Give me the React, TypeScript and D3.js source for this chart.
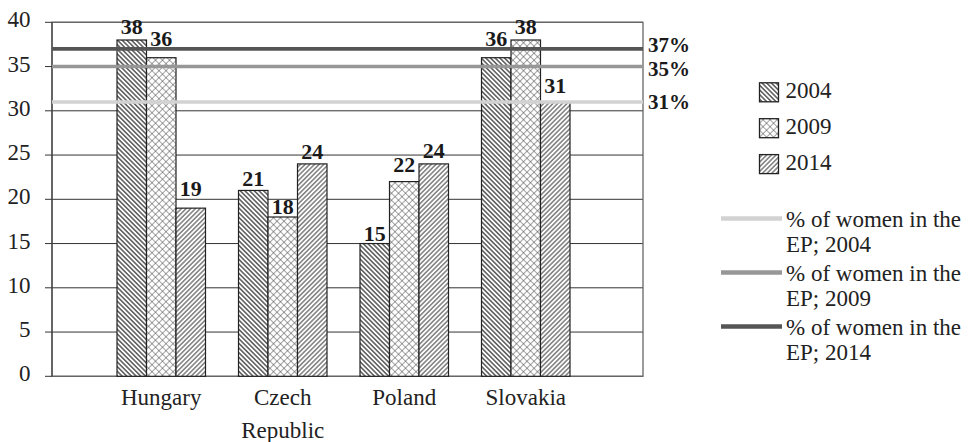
import React from "react";
import * as d3 from "d3";

// Share of women among MEPs elected in each country, by election year
const countries = ["Hungary", "Czech Republic", "Poland", "Slovakia"];
const countryLabelLines = [["Hungary"], ["Czech", "Republic"], ["Poland"], ["Slovakia"]];
const years = ["2004", "2009", "2014"];
const share2004 = [38, 21, 15, 36];
const share2009 = [36, 18, 22, 38];
const share2014 = [19, 24, 24, 31];

// EP-wide share of women for the same elections
const epYears = ["2004", "2009", "2014"];
const epShare = [31, 35, 37];

const yTickValues = [0, 5, 10, 15, 20, 25, 30, 35, 40];

// layout-only: how far each value label sits above its bar (px)
const labelLift = [
  [6, 11.7, 12],
  [4, 3.4, 5],
  [2.5, 10, 6],
  [11.6, 6, 9],
];
// layout-only: baseline offsets for the EP labels at the right edge
const epLabelShift = [7.5, 9.2, 3.3];

const W = 975;
const H = 442;
const plot = { left: 52, right: 643, top: 22.3, bottom: 376.3 };

const SERIF = '"Liberation Serif", "Times New Roman", serif';
const FS = 23;
const FS_BOLD = 22;
const FS_EP = 21;

const patternIds = ["pat2004", "pat2009", "pat2014"];
const epColors = ["#d2d2d2", "#979797", "#555555"];

export default function App() {
  const seriesValues = [share2004, share2009, share2014];

  const y = d3.scaleLinear().domain([0, 40]).range([plot.bottom, plot.top]);
  const x0 = d3
    .scaleBand<string>()
    .domain(countries)
    .range([100.5, 586.5])
    .paddingInner(0.2716)
    .paddingOuter(0.1358);
  const x1 = d3.scaleBand<string>().domain(years).range([0, x0.bandwidth()]);

  return (
    <svg
      width={W}
      height={H}
      style={{ position: "absolute", left: 0, top: 0, display: "block", background: "#fff" }}
      fontFamily={SERIF}
    >
      <defs>
        <pattern id="pat2004" patternUnits="userSpaceOnUse" width={3.3} height={3.3} patternTransform="rotate(-45)">
          <rect width={3.3} height={3.3} fill="#fff" />
          <line x1={1.65} y1={0} x2={1.65} y2={3.3} stroke="#222" strokeWidth={1.15} />
        </pattern>
        <pattern id="pat2009" patternUnits="userSpaceOnUse" width={4.95} height={4.95} patternTransform="rotate(45)">
          <rect width={4.95} height={4.95} fill="#fff" />
          <path d="M0,0V4.95M0,0H4.95" stroke="#444" strokeWidth={1} />
        </pattern>
        <pattern id="pat2014" patternUnits="userSpaceOnUse" width={3.3} height={3.3} patternTransform="rotate(45)">
          <rect width={3.3} height={3.3} fill="#fff" />
          <line x1={1.65} y1={0} x2={1.65} y2={3.3} stroke="#555" strokeWidth={1.15} />
        </pattern>
      </defs>

      {/* gridlines */}
      {yTickValues.map((t) => (
        <line key={`g${t}`} x1={plot.left} x2={plot.right} y1={y(t)} y2={y(t)} stroke="#333" strokeWidth={1} />
      ))}

      {/* plot frame */}
      <rect
        x={plot.left}
        y={plot.top}
        width={plot.right - plot.left}
        height={plot.bottom - plot.top}
        fill="none"
        stroke="#666"
        strokeWidth={1.3}
      />
      <line x1={plot.left} x2={plot.left} y1={plot.top} y2={plot.bottom} stroke="#444" strokeWidth={1.2} />

      {/* y ticks and labels */}
      {yTickValues.map((t) => (
        <g key={`t${t}`}>
          <line x1={plot.left - 7} x2={plot.left} y1={y(t)} y2={y(t)} stroke="#333" strokeWidth={1} />
          <text x={30.5} y={y(t) + 5} textAnchor="end" fontSize={FS} fill="#222">
            {t}
          </text>
        </g>
      ))}

      {/* bars */}
      {countries.map((c, ci) => (
        <g key={c} transform={`translate(${x0(c)},0)`}>
          {years.map((yr, si) => {
            const v = seriesValues[si][ci];
            return (
              <rect
                key={yr}
                x={x1(yr)}
                y={y(v)}
                width={x1.bandwidth()}
                height={y(0) - y(v)}
                fill={`url(#${patternIds[si]})`}
                stroke="#222"
                strokeWidth={1.2}
              />
            );
          })}
        </g>
      ))}

      {/* EP reference lines */}
      {epShare.map((v, i) => (
        <line key={`ep${i}`} x1={plot.left} x2={plot.right} y1={y(v)} y2={y(v)} stroke={epColors[i]} strokeWidth={3.6} />
      ))}

      {/* value labels */}
      {countries.map((c, ci) =>
        years.map((yr, si) => {
          const v = seriesValues[si][ci];
          return (
            <text
              key={`${c}-${yr}`}
              x={(x0(c) ?? 0) + (x1(yr) ?? 0) + x1.bandwidth() / 2}
              y={y(v) - labelLift[ci][si]}
              textAnchor="middle"
              fontSize={FS_BOLD}
              fontWeight="bold"
              fill="#1a1a1a"
            >
              {v}
            </text>
          );
        })
      )}

      {/* EP labels */}
      {epShare.map((v, i) => (
        <text key={`epl${i}`} x={648} y={y(v) + epLabelShift[i]} fontSize={FS_EP} fontWeight="bold" fill="#1a1a1a">
          {`${v}%`}
        </text>
      ))}

      {/* category labels */}
      {countries.map((c, ci) => (
        <text key={`cl${c}`} textAnchor="middle" fontSize={FS} fill="#222">
          {countryLabelLines[ci].map((ln, li) => (
            <tspan key={li} x={(x0(c) ?? 0) + x0.bandwidth() / 2} y={plot.bottom + 28.7 + li * 33}>
              {ln}
            </tspan>
          ))}
        </text>
      ))}

      {/* legend: bar series */}
      {years.map((yr, i) => {
        const base = 98.3 + i * 35.9;
        return (
          <g key={`lg${yr}`}>
            <rect x={759.5} y={base - 15.5} width={19} height={19} fill={`url(#${patternIds[i]})`} stroke="#222" strokeWidth={1.3} />
            <text x={785.5} y={base} fontSize={FS} fill="#222">
              {yr}
            </text>
          </g>
        );
      })}

      {/* legend: EP lines */}
      {epYears.map((yr, i) => {
        const base = 227 + i * 54;
        return (
          <g key={`le${yr}`}>
            <line x1={721} x2={782} y1={base - 8.5} y2={base - 8.5} stroke={epColors[i]} strokeWidth={4.5} />
            <text fontSize={FS} fill="#222">
              <tspan x={786} y={base}>
                % of women in the
              </tspan>
              <tspan x={786} y={base + 24.5}>
                {`EP; ${yr}`}
              </tspan>
            </text>
          </g>
        );
      })}
    </svg>
  );
}
